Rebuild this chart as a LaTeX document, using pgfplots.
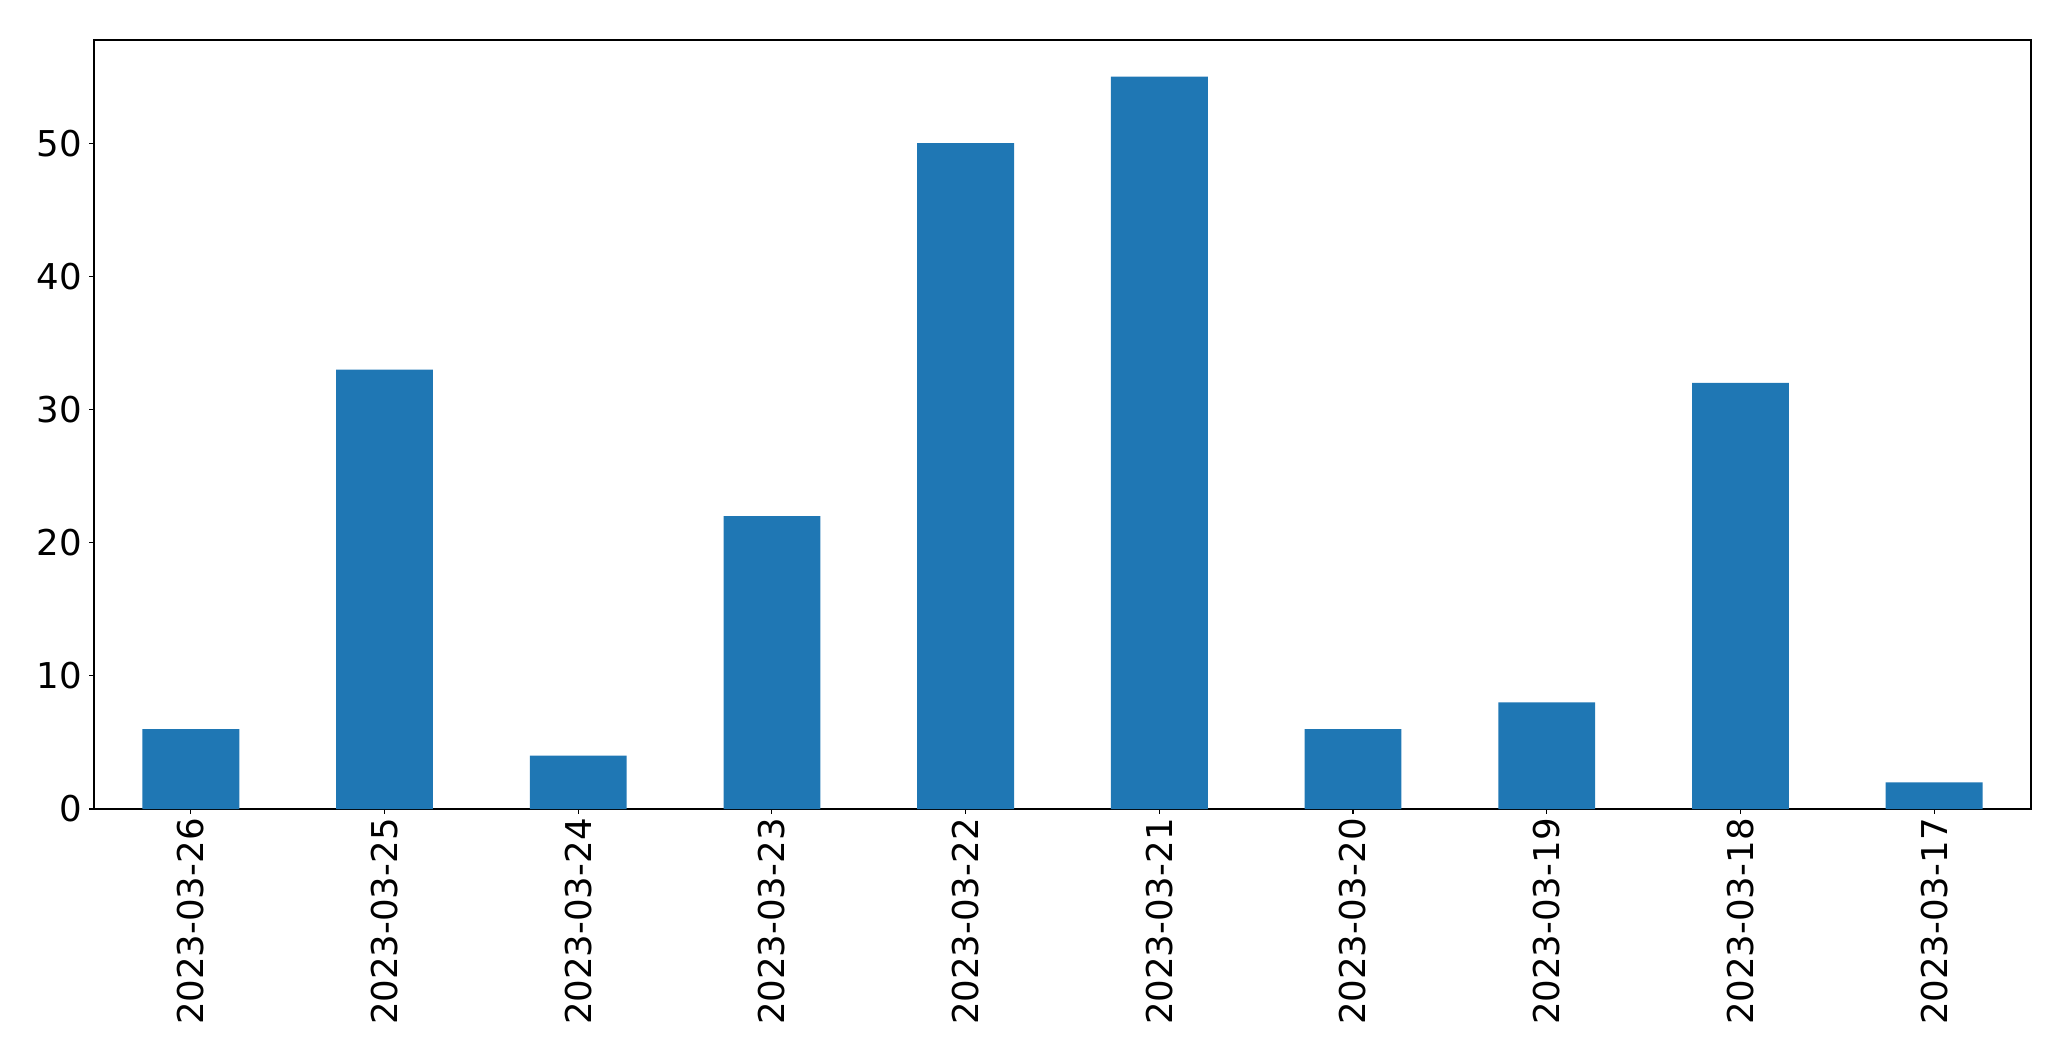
\documentclass[border=0pt]{standalone}
\usepackage{pgfplots}
\pgfplotsset{compat=1.18}
\usepackage{fontspec}
\setmainfont{DejaVu Sans}
\definecolor{barblue}{RGB}{31,119,180}

\begin{document}
\begin{tikzpicture}
% page box: 2071x1061 px at 0.72bp per px
\path[use as bounding box] (-67.68bp,-181.44bp) rectangle (1423.44bp,582.48bp);
\begin{axis}[
    scale only axis,
    width=1394.6bp,
    height=553.7bp,
    xmin=-0.5, xmax=9.5,
    ymin=0, ymax=57.75,
    xtick={0,...,9},
    xticklabels={2023-03-26,2023-03-25,2023-03-24,2023-03-23,2023-03-22,
                 2023-03-21,2023-03-20,2023-03-19,2023-03-18,2023-03-17},
    ytick={0,10,20,30,40,50},
    tick align=outside,
    major tick length=3.5bp,
    tick style={black, line width=0.8bp},
    axis line style={line width=0.8bp},
    xtick pos=bottom, ytick pos=left,
    ticklabel style={font=\fontsize{25.6bp}{30bp}\selectfont, inner sep=0pt},
    xticklabel style={rotate=90, anchor=east, xshift=-3bp},
    yticklabel style={xshift=-5bp},
    /pgf/number format/assume math mode=true,
    ]
\addplot[ybar, bar width=0.5, fill=barblue, draw=none] coordinates {
    (0,6) (1,33) (2,4) (3,22) (4,50) (5,55) (6,6) (7,8) (8,32) (9,2)
};
\end{axis}
\end{tikzpicture}
\end{document}
